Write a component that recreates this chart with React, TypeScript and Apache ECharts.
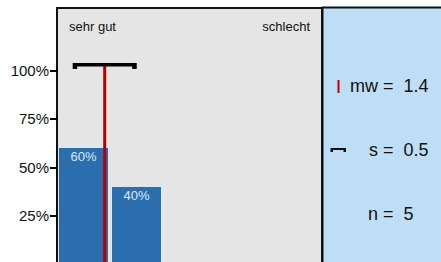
import React, { useEffect, useRef } from "react";
import * as echarts from "echarts";

const categories = [1, 2, 3, 4, 5];
const shares = [60, 40, 0, 0, 0];
const yTicks = [25, 50, 75, 100];
const meanValue = 1.4;
const stdValue = 0.5477;
const meanLabel = "mw =\u00a0\u00a01.4";
const stdLabel = "s =\u00a0\u00a00.5";
const nLabel = "n =\u00a0\u00a05";
const leftLabel = "sehr gut";
const rightLabel = "schlecht";

const FONT = "'Liberation Sans', Arial, sans-serif";

export default function App() {
  const ref = useRef<HTMLDivElement>(null);
  useEffect(() => {
    if (!ref.current) return;
    const chart = echarts.init(ref.current, null, { renderer: "svg" });
    chart.setOption({
      animation: false,
      grid: {
        left: 57,
        right: 119,
        top: 8,
        bottom: 1.5,
        show: true,
        backgroundColor: "#e5e5e5",
        borderColor: "#111",
        borderWidth: 2,
      },
      xAxis: {
        type: "value",
        min: 0.5,
        max: 5.5,
        show: false,
      },
      yAxis: {
        type: "value",
        min: 0,
        max: 132.2,
        splitLine: { show: false },
        axisLine: { show: false },
        axisTick: {
          show: true,
          customValues: yTicks,
          length: 7,
          lineStyle: { color: "#000", width: 2 },
        },
        axisLabel: {
          customValues: yTicks,
          formatter: (v: number) => `${v}%`,
          fontFamily: FONT,
          fontSize: 15,
          color: "#111",
          margin: 8,
        },
      },
      series: [
        {
          type: "bar",
          barWidth: 49,
          data: categories.map((c, i) => [c, shares[i]]),
          itemStyle: { color: "#2b6ead" },
          label: {
            show: true,
            position: "insideTop",
            distance: 2,
            formatter: (p: any) => (p.value[1] > 0 ? `${p.value[1]}%` : ""),
            color: "#dce9f6",
            fontFamily: FONT,
            fontSize: 13,
          },
          z: 2,
        },
        {
          type: "line",
          data: [
            [meanValue, 0],
            [meanValue, 102.4],
          ],
          symbol: "none",
          lineStyle: { color: "#b50000", width: 3 },
          z: 3,
        },
        {
          type: "custom",
          data: [[meanValue, 103.1, stdValue]],
          z: 4,
          renderItem: (params: any, api: any) => {
            const m = api.value(0);
            const y = api.value(1);
            const s = api.value(2);
            const p1 = api.coord([m - s, y]);
            const p2 = api.coord([m + s, y]);
            return {
              type: "group",
              children: [
                {
                  type: "rect",
                  shape: { x: p1[0] - 2, y: p1[1] - 1.5, width: p2[0] - p1[0] + 4, height: 3.5 },
                  style: { fill: "#000" },
                },
                {
                  type: "rect",
                  shape: { x: p1[0] - 3, y: p1[1] - 1.5, width: 4.5, height: 6 },
                  style: { fill: "#000" },
                },
                {
                  type: "rect",
                  shape: { x: p2[0] - 1.5, y: p2[1] - 1.5, width: 4.5, height: 6 },
                  style: { fill: "#000" },
                },
              ],
            };
          },
        },
      ],
      graphic: [
        {
          type: "rect",
          shape: { x: 322.5, y: 7.5, width: 125, height: 270 },
          style: { fill: "#bddef5", stroke: "#111", lineWidth: 2 },
          z: 10,
        },
        {
          type: "text",
          x: 69,
          y: 26,
          style: { text: leftLabel, fontFamily: FONT, fontSize: 13, fill: "#111", verticalAlign: "middle", align: "left" },
          z: 10,
        },
        {
          type: "text",
          x: 310,
          y: 26,
          style: { text: rightLabel, fontFamily: FONT, fontSize: 13, fill: "#111", verticalAlign: "middle", align: "right" },
          z: 10,
        },
        {
          type: "rect",
          shape: { x: 337.5, y: 80, width: 2, height: 13 },
          style: { fill: "#c00000" },
          z: 11,
        },
        {
          type: "text",
          x: 350,
          y: 85.5,
          style: { text: meanLabel, fontFamily: FONT, fontSize: 18, fill: "#111", verticalAlign: "middle", align: "left" },
          z: 11,
        },
        {
          type: "rect",
          shape: { x: 331, y: 148, width: 15, height: 2 },
          style: { fill: "#111" },
          z: 11,
        },
        {
          type: "rect",
          shape: { x: 330.5, y: 148, width: 2.5, height: 4 },
          style: { fill: "#111" },
          z: 11,
        },
        {
          type: "rect",
          shape: { x: 343.5, y: 148, width: 2.5, height: 4 },
          style: { fill: "#111" },
          z: 11,
        },
        {
          type: "text",
          x: 369,
          y: 149.5,
          style: { text: stdLabel, fontFamily: FONT, fontSize: 18, fill: "#111", verticalAlign: "middle", align: "left" },
          z: 11,
        },
        {
          type: "text",
          x: 368,
          y: 213.5,
          style: { text: nLabel, fontFamily: FONT, fontSize: 18, fill: "#111", verticalAlign: "middle", align: "left" },
          z: 11,
        },
      ],
    });
    return () => chart.dispose();
  }, []);
  return (
    <div
      ref={ref}
      style={{ position: "fixed", left: 0, top: 0, width: 441, height: 266, background: "#fff" }}
    />
  );
}
